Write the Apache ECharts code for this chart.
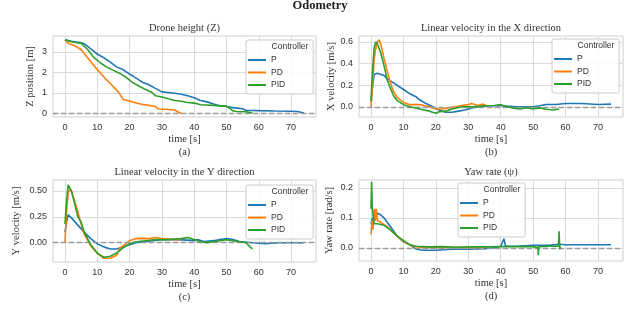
<!DOCTYPE html>
<html><head><meta charset="utf-8">
<script src="https://cdn.jsdelivr.net/npm/echarts@6/dist/echarts.min.js"></script>
<style>html,body{margin:0;padding:0;background:#fff}#c{width:640px;height:318px}</style>
</head><body><div id="c"></div>
<script>
// ---- tick labels ----
const timeTicks = [0, 10, 20, 30, 40, 50, 60, 70];
const zTicks = [0, 1, 2, 3];
const vxTicks = [0, 0.2, 0.4, 0.6];
const vyTicks = [0, 0.25, 0.5];
const yawTicks = [0, 0.1, 0.2];
const controllers = ['P', 'PD', 'PID'];

// ---- (a) Z position [m] ----
const zP = [[0,3.6],[2,3.52],[5,3.45],[6,3.4],[8,3.15],[10,2.9],[12,2.72],[14,2.5],[16,2.27],[18,2.13],[20,1.92],[22,1.72],[24,1.52],[26,1.4],[28,1.22],[30,1.05],[32,1.02],[34,0.98],[36,0.93],[38,0.86],[40,0.76],[42,0.63],[44,0.56],[46,0.46],[48,0.36],[50,0.33],[52,0.28],[55,0.22],[56,0.15],[60,0.13],[65,0.11],[70,0.1],[72,0.09],[74,0.02]];
const zPD = [[0,3.6],[1,3.42],[3,3.3],[5,3.12],[7,2.72],[9,2.32],[11,1.96],[13,1.62],[15,1.3],[16.5,1.05],[18,0.68],[20,0.6],[22,0.5],[24,0.43],[26,0.39],[28,0.33],[29,0.21],[32,0.19],[34,0.16],[35,0.06],[36,0.0]];
const zPID = [[0,3.6],[2,3.5],[5,3.42],[7,3.12],[9,2.72],[11,2.46],[13,2.26],[15,2.1],[17,1.95],[19,1.75],[21,1.5],[23,1.32],[25,1.16],[27,1.02],[28,0.86],[30,0.8],[32,0.71],[34,0.63],[36,0.59],[38,0.53],[40,0.5],[42,0.42],[46,0.39],[50,0.35],[51,0.25],[52,0.12],[53,0.09],[56,0.08],[58,0.02]];

// ---- (b) X velocity [m/s] ----
const vxP = [[0,0.05],[0.5,0.2],[1,0.3],[2,0.31],[4,0.29],[5,0.26],[6,0.24],[8,0.2],[10,0.16],[12,0.12],[14,0.09],[15,0.065],[17,0.03],[19,0.0],[21,-0.03],[23,-0.05],[25,-0.05],[27,-0.04],[29,-0.03],[31,-0.01],[33,0.0],[36,0.01],[40,0.01],[45,0.0],[50,0.0],[52,0.01],[54,0.022],[57,0.022],[60,0.03],[65,0.03],[70,0.022],[74,0.025]];
const vxPD = [[0,0.0],[0.5,0.2],[1,0.45],[1.5,0.55],[2,0.6],[2.5,0.62],[3,0.58],[4,0.45],[5,0.33],[6,0.22],[7,0.14],[8,0.09],[10,0.04],[12,0.02],[15,0.02],[18,0.0],[20,-0.02],[22,-0.02],[24,-0.01],[26,0.0],[28,0.012],[30,0.02],[31,0.03],[33,0.012],[34.5,0.025],[36,0.005]];
const vxPID = [[0,0.05],[0.5,0.35],[1,0.55],[1.5,0.6],[2,0.58],[3,0.5],[4,0.38],[5,0.25],[6,0.17],[7,0.1],[8,0.06],[10,0.02],[12,0.0],[15,-0.02],[18,-0.04],[20,-0.06],[21,-0.045],[23,-0.04],[25,-0.02],[28,0.0],[32,0.0],[35,0.01],[38,0.012],[40,0.02],[42,0.0],[44,-0.012],[46,-0.02],[48,-0.008],[50,-0.02],[52,-0.01],[54,-0.022],[56,-0.03],[58,-0.02]];

// ---- (c) Y velocity [m/s] ----
const vyP = [[0,0.1],[0.5,0.2],[1,0.27],[2,0.24],[4,0.17],[6,0.1],[8,0.04],[10,-0.01],[12,-0.04],[14,-0.06],[16,-0.06],[18,-0.04],[20,-0.02],[22,0.0],[25,0.012],[30,0.03],[35,0.03],[40,0.02],[41,0.032],[43,0.012],[46,0.02],[48,0.032],[50,0.04],[52,0.03],[54,0.012],[58,0.0],[62,-0.01],[66,0.0],[70,0.0],[74,0.0]];
const vyPD = [[0,0.0],[0.5,0.3],[1,0.48],[1.5,0.52],[2,0.5],[3,0.4],[4,0.3],[5,0.18],[6,0.08],[8,-0.03],[10,-0.1],[12,-0.15],[14,-0.15],[16,-0.12],[17,-0.05],[18,-0.03],[20,0.02],[22,0.04],[24,0.042],[26,0.04],[28,0.05],[30,0.04],[34,0.03],[36,0.03]];
const vyPID = [[0,0.18],[0.5,0.4],[1,0.56],[1.5,0.57],[2,0.5],[3,0.38],[4,0.25],[5,0.2],[6,0.1],[8,-0.02],[10,-0.1],[12,-0.14],[14,-0.13],[16,-0.1],[18,-0.05],[20,-0.01],[22,0.01],[25,0.02],[28,0.03],[32,0.03],[36,0.04],[38,0.05],[40,0.03],[42,0.01],[44,0.0],[46,0.01],[48,0.02],[50,0.03],[52,0.02],[54,0.01],[56,0.0],[57,-0.03],[58,-0.06]];

// ---- (d) Yaw rate [rad/s] ----
const yawP = [[0,0.08],[0.5,0.1],[1,0.09],[2,0.115],[3,0.11],[4,0.1],[5,0.085],[6,0.07],[8,0.04],[10,0.02],[12,0.01],[14,-0.005],[16,-0.008],[20,-0.008],[25,-0.005],[30,-0.005],[35,-0.003],[38,0.0],[40,0.005],[41,0.03],[41.5,0.005],[45,0.005],[50,0.008],[55,0.008],[58,0.012],[60,0.01],[65,0.01],[70,0.01],[74,0.01]];
const yawPD = [[0,0.045],[0.3,0.09],[0.6,0.06],[1,0.13],[1.3,0.09],[1.6,0.13],[2,0.09],[3,0.085],[5,0.07],[7,0.05],[9,0.03],[11,0.015],[13,0.005],[15,0.002],[20,0.0],[25,0.002],[30,0.0],[35,0.003],[36,0.002]];
const yawPID = [[0,0.13],[0.2,0.22],[0.4,0.13],[1,0.08],[2,0.08],[4,0.075],[6,0.06],[8,0.04],[10,0.025],[12,0.01],[14,0.005],[18,0.003],[22,0.004],[26,0.002],[30,0.003],[35,0.003],[40,0.004],[45,0.004],[50,0.004],[51.5,0.0],[51.6,-0.025],[51.7,0.004],[55,0.005],[57.8,0.005],[58,0.055],[58.2,-0.005],[58.4,0.005]];

const colors = ['#1f77b4', '#ff7f0e', '#2ca02c'];
const SERIF = '"Liberation Serif", "DejaVu Serif", serif';
const SANS = '"Liberation Sans", Arial, sans-serif';

const grids = [
  {left: 53, top: 36, width: 263, height: 81},
  {left: 359, top: 36, width: 264, height: 81},
  {left: 53, top: 180, width: 263, height: 82},
  {left: 359, top: 180, width: 264, height: 81}
];
const panelData = [[zP, zPD, zPID], [vxP, vxPD, vxPID], [vyP, vyPD, vyPID], [yawP, yawPD, yawPID]];
const yRanges = [[-0.18, 3.78], [-0.094, 0.654], [-0.186, 0.606], [-0.044, 0.226]];
const yTickSets = [zTicks, vxTicks, vyTicks, yawTicks];
const yDigits = [0, 1, 2, 1];
const yNames = ['Z position [m]', 'X velocity [m/s]', 'Y velocity [m/s]', 'Yaw rate [rad/s]'];
const yGaps = [17, 21, 31, 24];
const subLetters = ['(a)', '(b)', '(c)', '(d)'];
const titles = ['Drone height (Z)', 'Linear velocity in the X direction', 'Linear velocity in the Y direction', 'Yaw rate (\u03c8)'];
const legendBoxes = [
  {left: 246, top: 40},
  {left: 552, top: 39},
  {left: 246, top: 185},
  {left: 458, top: 183}
];

const xAxes = [], yAxes = [], series = [], legends = [], graphics = [];
grids.forEach((g, i) => {
  xAxes.push({
    type: 'value', gridIndex: i, min: -3.7, max: 77.7,
    name: 'time [s]\n' + subLetters[i], nameLocation: 'middle', nameGap: 15,
    nameTextStyle: {fontFamily: SERIF, fontSize: 10.5, color: '#333', lineHeight: 13},
    axisLine: {show: false}, axisTick: {show: false, customValues: timeTicks},
    axisLabel: {customValues: timeTicks, fontFamily: SANS, fontSize: 9, color: '#333', margin: 6},
    splitLine: {show: true, lineStyle: {color: '#dadada', width: 1}}
  });
  const d = yDigits[i];
  yAxes.push({
    type: 'value', gridIndex: i, min: yRanges[i][0], max: yRanges[i][1],
    name: yNames[i], nameLocation: 'middle', nameGap: yGaps[i],
    nameTextStyle: {fontFamily: SERIF, fontSize: 10.5, color: '#333'},
    axisLine: {show: false}, axisTick: {show: false, customValues: yTickSets[i]},
    axisLabel: {customValues: yTickSets[i], fontFamily: SANS, fontSize: 9, color: '#333', margin: 6,
      formatter: v => Number(v).toFixed(d)},
    splitLine: {show: true, lineStyle: {color: '#dadada', width: 1}}
  });
  panelData[i].forEach((arr, k) => {
    const s = {
      type: 'line', name: controllers[k], xAxisIndex: i, yAxisIndex: i,
      data: arr, showSymbol: false, symbol: 'none', animation: false,
      lineStyle: {color: colors[k], width: 1.6}, itemStyle: {color: colors[k]},
      z: 3 + k
    };
    if (k === 0) {
      s.markLine = {
        silent: true, symbol: 'none', animation: false,
        label: {show: false},
        lineStyle: {color: '#9a9a9a', type: [5, 3], width: 1.4},
        data: [{yAxis: 0}]
      };
    }
    series.push(s);
  });
  const lb = legendBoxes[i];
  legends.push({
    orient: 'vertical', left: lb.left, top: lb.top,
    data: controllers, icon: 'rect', itemWidth: 18, itemHeight: 2, itemGap: 2.5,
    padding: [15, 28, 4, 2],
    borderColor: '#cccccc', borderWidth: 1, borderRadius: 2, backgroundColor: 'rgba(255,255,255,0.85)',
    textStyle: {fontFamily: SANS, fontSize: 8.5, color: '#333', lineHeight: 10},
    selectedMode: false
  });
  graphics.push({
    type: 'text', x: lb.left + 44, y: lb.top + 7, z: 100,
    style: {text: 'Controller', font: '8.5px ' + SANS, fill: '#333', align: 'center', verticalAlign: 'middle'}
  });
  graphics.push({
    type: 'text', x: g.left + g.width / 2, y: g.top - 8, z: 100,
    style: {text: titles[i], font: '10.5px ' + SERIF, fill: '#333', align: 'center', verticalAlign: 'middle'}
  });
});
graphics.push({
  type: 'text', x: 320, y: 6, z: 100,
  style: {text: 'Odometry', font: 'bold 12.5px ' + SERIF, fill: '#222', align: 'center', verticalAlign: 'middle'}
});

const chart = echarts.init(document.getElementById('c'), null, {renderer: 'canvas'});
chart.setOption({
  animation: false,
  backgroundColor: '#fff',
  grid: grids.map(g => Object.assign({show: true, borderColor: '#cfcfcf', borderWidth: 1, backgroundColor: 'transparent'}, g)),
  xAxis: xAxes, yAxis: yAxes, series: series, legend: legends, graphic: graphics
});
</script></body></html>
